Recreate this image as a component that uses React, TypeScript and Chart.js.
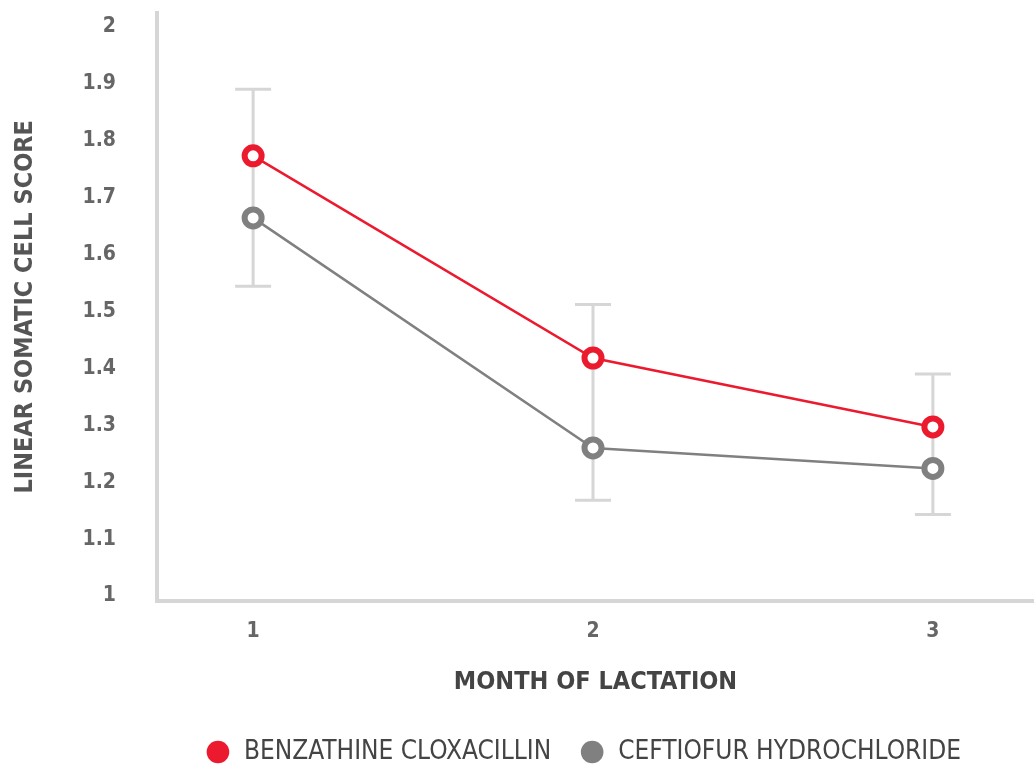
import React, { useEffect, useRef } from "react";
import { Chart, registerables } from "chart.js";

Chart.register(...registerables);

const months = [1, 2, 3];
const benzathine = [1.773, 1.418, 1.297];
const ceftiofur = [1.664, 1.26, 1.224];
const errorLow = [1.544, 1.168, 1.143];
const errorHigh = [1.89, 1.512, 1.39];
const yTicks = [1, 1.1, 1.2, 1.3, 1.4, 1.5, 1.6, 1.7, 1.8, 1.9, 2];
const seriesNames = ["BENZATHINE CLOXACILLIN", "CEFTIOFUR HYDROCHLORIDE"];

const FONT = "'Liberation Sans Narrow', 'DejaVu Sans Condensed', 'Roboto', sans-serif";
const RED = "#ec1a2e";
const GRAY = "#808080";
const LIGHT = "#d6d6d6";
const NONE = "rgba(0,0,0,0)";

const errorBarPlugin = {
  id: "errorBars",
  beforeDatasetsDraw(chart: any) {
    const { ctx, scales } = chart;
    const xs = scales.x;
    const ys = scales.y;
    ctx.save();
    ctx.strokeStyle = LIGHT;
    ctx.lineWidth = 3;
    months.forEach((m, i) => {
      const x = xs.getPixelForValue(m);
      const yl = ys.getPixelForValue(errorLow[i]);
      const yh = ys.getPixelForValue(errorHigh[i]);
      ctx.beginPath();
      ctx.moveTo(x, yl);
      ctx.lineTo(x, yh);
      ctx.moveTo(x - 18, yl);
      ctx.lineTo(x + 18, yl);
      ctx.moveTo(x - 18, yh);
      ctx.lineTo(x + 18, yh);
      ctx.stroke();
    });
    ctx.restore();
  },
};

const legendShiftPlugin = {
  id: "legendShift",
  afterLayout(chart: any) {
    const lg = chart.legend;
    if (lg) {
      lg.left += 66;
      lg.right += 66;
    }
  },
};

export default function App() {
  const ref = useRef<HTMLCanvasElement>(null);
  useEffect(() => {
    if (!ref.current) return;
    const chart = new Chart(ref.current, {
      type: "line",
      data: {
        datasets: [
          {
            label: seriesNames[0],
            data: months.map((m, i) => ({ x: m, y: benzathine[i] })),
            borderColor: RED,
            backgroundColor: RED,
            borderWidth: 2.5,
            pointRadius: 8.5,
            pointBorderWidth: 6,
            pointBackgroundColor: "#ffffff",
            pointBorderColor: RED,
          },
          {
            label: seriesNames[1],
            data: months.map((m, i) => ({ x: m, y: ceftiofur[i] })),
            borderColor: GRAY,
            backgroundColor: GRAY,
            borderWidth: 2.5,
            pointRadius: 8.5,
            pointBorderWidth: 6,
            pointBackgroundColor: "#ffffff",
            pointBorderColor: GRAY,
          },
        ],
      },
      options: {
        animation: false,
        responsive: false,
        maintainAspectRatio: false,
        layout: { autoPadding: false, padding: { left: 0, right: 0, top: -2.6, bottom: -3 } },
        plugins: {
          tooltip: { enabled: false },
          legend: {
            position: "bottom",
            labels: {
              usePointStyle: true,
              pointStyle: "circle",
              boxWidth: 26,
              boxHeight: 16,
              padding: 28,
              color: "#444444",
              font: { family: FONT, size: 26 },
              generateLabels: (c: any) =>
                c.data.datasets.map((d: any, i: number) => ({
                  text: d.label,
                  fillStyle: d.borderColor,
                  strokeStyle: d.borderColor,
                  lineWidth: 0,
                  pointStyle: "circle",
                  datasetIndex: i,
                  fontColor: "#444444",
                })),
            },
          },
        },
        scales: {
          x: {
            type: "linear",
            min: 0.7172,
            max: 3.2975,
            grid: { display: true, drawOnChartArea: false, drawTicks: true, tickLength: 18, tickColor: NONE, color: NONE },
            border: { display: true, color: LIGHT, width: 4 },
            afterBuildTicks: (s: any) => {
              s.ticks = months.map((v) => ({ value: v }));
            },
            afterFit: (s: any) => {
              s.paddingLeft = 0;
              s.paddingRight = 0;
            },
            ticks: {
              color: "#666666",
              padding: 0,
              font: { family: FONT, size: 21, weight: "bold" },
              callback: (v: any) => String(v),
            },
            title: {
              display: true,
              text: "MONTH OF LACTATION",
              color: "#444444",
              padding: { top: 22.8, bottom: 14 },
              font: { family: FONT, size: 25, weight: "bold" },
            },
          },
          y: {
            type: "linear",
            min: 0.9913,
            max: 2.0245,
            grid: { display: true, drawOnChartArea: false, drawTicks: true, tickLength: 41, tickColor: NONE, color: NONE },
            border: { display: true, color: LIGHT, width: 4 },
            afterBuildTicks: (s: any) => {
              s.ticks = yTicks.map((v) => ({ value: v }));
            },
            afterFit: (s: any) => {
              s.width = 157;
            },
            ticks: {
              color: "#666666",
              padding: 0,
              font: { family: FONT, size: 21, weight: "bold" },
              callback: (v: any) => String(Math.round(v * 10) / 10),
            },
            title: {
              display: true,
              text: "LINEAR SOMATIC CELL SCORE",
              color: "#555555",
              padding: { top: 10, bottom: 0 },
              font: { family: FONT, size: 25, weight: "bold" },
            },
          },
        },
      },
      plugins: [errorBarPlugin, legendShiftPlugin],
    });
    return () => chart.destroy();
  }, []);
  return (
    <div style={{ position: "fixed", left: 0, top: 0, width: 1034, height: 772, background: "#fff" }}>
      <canvas ref={ref} width={1034} height={772} style={{ width: 1034, height: 772 }} />
    </div>
  );
}
